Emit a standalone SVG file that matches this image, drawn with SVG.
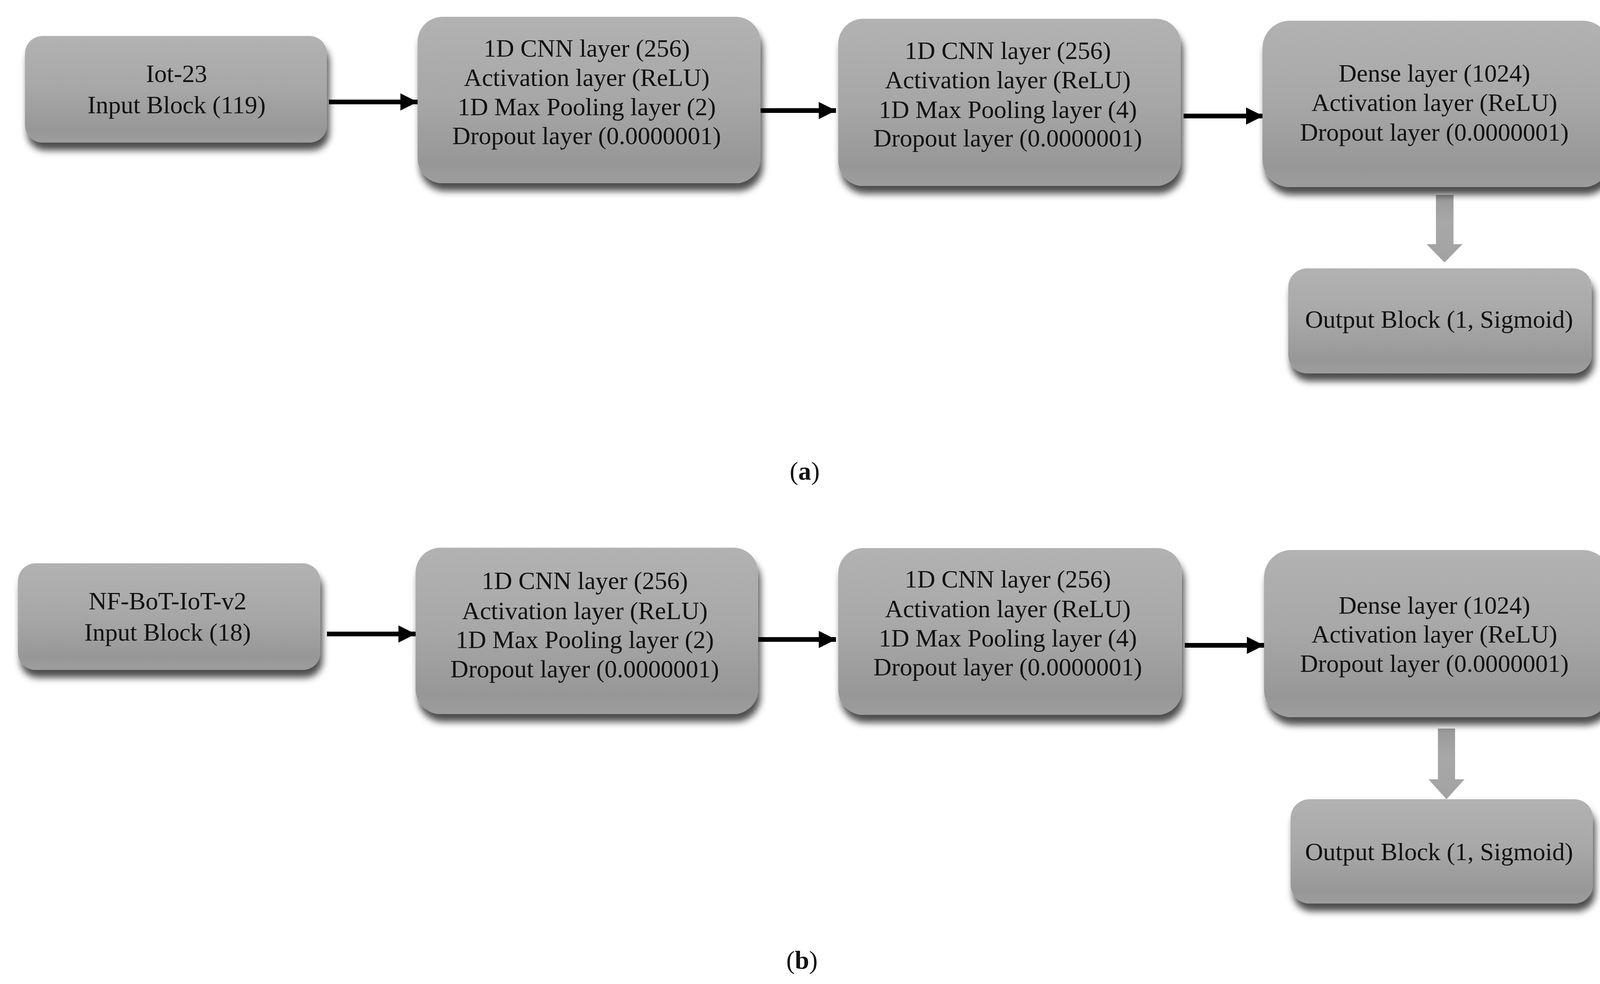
<svg xmlns="http://www.w3.org/2000/svg" width="4165" height="2519" viewBox="0 0 4165 2519">
<defs>
<linearGradient id="boxg" x1="0" y1="0" x2="0" y2="1">
<stop offset="0" stop-color="#b2b2b2"/>
<stop offset="0.5" stop-color="#a7a7a7"/>
<stop offset="0.88" stop-color="#979797"/>
<stop offset="1" stop-color="#9d9d9d"/>
</linearGradient>
<linearGradient id="arrg" x1="0" y1="0" x2="0" y2="1">
<stop offset="0" stop-color="#999999"/>
<stop offset="0.4" stop-color="#a8a8a8"/>
<stop offset="1" stop-color="#a2a2a2"/>
</linearGradient>
<filter id="shadow" x="-10%" y="-15%" width="125%" height="140%">
<feGaussianBlur in="SourceAlpha" stdDeviation="9"/>
<feOffset dx="6" dy="20" result="b"/>
<feComponentTransfer><feFuncA type="linear" slope="0.7"/></feComponentTransfer>
<feMerge><feMergeNode/><feMergeNode in="SourceGraphic"/></feMerge>
</filter>
<filter id="soft" x="-20%" y="-20%" width="140%" height="140%">
<feGaussianBlur stdDeviation="2"/>
</filter>
<marker id="head" markerUnits="userSpaceOnUse" markerWidth="46" markerHeight="46" refX="44" refY="22" orient="auto">
<path d="M0,0 L44,22 L0,44 Z" fill="#000"/>
</marker>
</defs>
<style>
.box { fill: url(#boxg); filter: url(#shadow); }
.lbl { font-family: "Liberation Serif", "Times New Roman", serif; font-size: 64px; fill: #111; text-anchor: middle; }
.cap { font-family: "Liberation Serif", "Times New Roman", serif; font-size: 66px; fill: #111; text-anchor: middle; }
.conn { stroke: #000; stroke-width: 12; fill: none; marker-end: url(#head); }
.garr { fill: url(#arrg); }
</style>
<rect width="4165" height="2519" fill="#ffffff"/>

<g id="connectors">
<line class="conn" x1="842" y1="261" x2="1069" y2="261"/>
<line class="conn" x1="1947" y1="283" x2="2140" y2="283"/>
<line class="conn" x1="3030" y1="297" x2="3234" y2="297"/>
<path class="garr" d="M3676,499 L3721,499 L3721,625 L3744,625 L3698,672 L3652,625 L3676,625 Z"/>
<line class="conn" x1="837" y1="1623" x2="1064" y2="1623"/>
<line class="conn" x1="1941" y1="1637" x2="2140" y2="1637"/>
<line class="conn" x1="3033" y1="1652" x2="3236" y2="1652"/>
<path class="garr" d="M3681,1865 L3725,1865 L3725,1995 L3749,1995 L3703,2046 L3657,1995 L3681,1995 Z"/>
</g>

<g id="a_input">
<rect class="box" x="64" y="92" width="773" height="273" rx="45"/>
<text class="lbl" x="452" y="210">Iot-23</text>
<text class="lbl" x="452" y="290">Input Block (119)</text>
</g>
<g id="a_cnn1">
<rect class="box" x="1069" y="43" width="878" height="426" rx="64"/>
<text class="lbl" x="1502" y="145">1D CNN layer (256)</text>
<text class="lbl" x="1502" y="220">Activation layer (ReLU)</text>
<text class="lbl" x="1502" y="295">1D Max  Pooling layer (2)</text>
<text class="lbl" x="1502" y="369">Dropout layer (0.0000001)</text>
</g>
<g id="a_cnn2">
<rect class="box" x="2146" y="48" width="877" height="428" rx="64"/>
<text class="lbl" x="2580" y="151">1D CNN layer (256)</text>
<text class="lbl" x="2580" y="226">Activation layer (ReLU)</text>
<text class="lbl" x="2580" y="302">1D Max  Pooling layer (4)</text>
<text class="lbl" x="2580" y="375">Dropout layer (0.0000001)</text>
</g>
<g id="a_dense">
<rect class="box" x="3232" y="53" width="890" height="426" rx="70"/>
<text class="lbl" x="3672" y="209">Dense layer (1024)</text>
<text class="lbl" x="3672" y="284">Activation layer (ReLU)</text>
<text class="lbl" x="3672" y="360">Dropout layer (0.0000001)</text>
</g>
<g id="a_output">
<rect class="box" x="3298" y="687" width="777" height="269" rx="48"/>
<text class="lbl" x="3684" y="839">Output  Block (1, Sigmoid)</text>
</g>
<text class="cap" x="2060" y="1228">(<tspan font-weight="bold">a</tspan>)</text>

<g id="b_input">
<rect class="box" x="46" y="1442" width="774" height="273" rx="45"/>
<text class="lbl" x="429" y="1560">NF-BoT-IoT-v2</text>
<text class="lbl" x="429" y="1640">Input Block (18)</text>
</g>
<g id="b_cnn1">
<rect class="box" x="1064" y="1402" width="877" height="426" rx="64"/>
<text class="lbl" x="1497" y="1508">1D CNN layer (256)</text>
<text class="lbl" x="1497" y="1585">Activation layer (ReLU)</text>
<text class="lbl" x="1497" y="1659">1D Max  Pooling layer (2)</text>
<text class="lbl" x="1497" y="1734">Dropout layer (0.0000001)</text>
</g>
<g id="b_cnn2">
<rect class="box" x="2146" y="1403" width="880" height="427" rx="64"/>
<text class="lbl" x="2580" y="1504">1D CNN layer (256)</text>
<text class="lbl" x="2580" y="1580">Activation layer (ReLU)</text>
<text class="lbl" x="2580" y="1655">1D Max  Pooling layer (4)</text>
<text class="lbl" x="2580" y="1729">Dropout layer (0.0000001)</text>
</g>
<g id="b_dense">
<rect class="box" x="3236" y="1408" width="886" height="428" rx="70"/>
<text class="lbl" x="3672" y="1571">Dense layer (1024)</text>
<text class="lbl" x="3672" y="1645">Activation layer (ReLU)</text>
<text class="lbl" x="3672" y="1720">Dropout layer (0.0000001)</text>
</g>
<g id="b_output">
<rect class="box" x="3304" y="2046" width="774" height="267" rx="48"/>
<text class="lbl" x="3684" y="2202">Output  Block (1, Sigmoid)</text>
</g>
<text class="cap" x="2053" y="2480">(<tspan font-weight="bold">b</tspan>)</text>
</svg>
